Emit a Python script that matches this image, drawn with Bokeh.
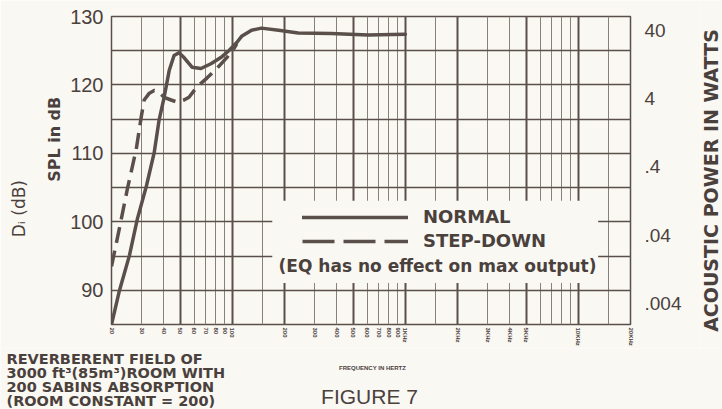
import math
from bokeh.plotting import figure
from bokeh.layouts import column, row
from bokeh.models import (FixedTicker, LogAxis, LinearAxis, Range1d, LogScale, Grid, Label,
                          Legend, LegendItem, BoxAnnotation)
from bokeh.embed import file_html
from bokeh.resources import INLINE

# ---------------- data ----------------
freq_normal = [20, 22.2, 25.4, 28.2, 31.8, 35.3, 37.7, 40.3, 43.1, 46.0, 49.1, 52.5,
               58.4, 65.8, 75.1, 85.7, 95.3, 106, 113, 129, 147, 185, 240, 372, 608, 1000]
spl_normal = [85.0, 89.9, 95.1, 100.4, 105.2, 110.1, 114.9, 118.2, 122.1, 124.3, 124.7, 124.0,
              122.6, 122.4, 123.1, 124.0, 125.0, 126.2, 127.1, 128.0, 128.3, 128.0, 127.6, 127.5, 127.3, 127.4]

freq_stepdown = [20, 22.2, 24.7, 27.8, 29.7, 30.9, 33.1, 35.3, 37.7, 40.3, 44.2, 47.9,
                 52.5, 56.1, 62.3, 71.2, 81.3, 92.8, 102, 106]
spl_stepdown = [93.5, 99.0, 104.8, 110.6, 115.3, 117.8, 118.8, 119.2, 118.9, 118.2, 117.8, 117.5,
                117.8, 118.2, 119.7, 121.0, 122.4, 124.0, 125.3, 126.0]

spl_ticks = [90, 100, 110, 120, 130]
spl_grid = [85, 90, 95, 100, 105, 110, 115, 120, 125, 130]
power_ticks = [0.004, 0.04, 0.4, 4, 40]
power_labels = [".004", ".04", ".4", "4", "40"]
POWER_REF_DB = 112.0  # SPL that corresponds to 1 W acoustic power on the right scale

freq_ticks = [20, 30, 40, 50, 60, 70, 80, 90, 100, 200, 300, 400, 500, 600, 700, 800, 900,
              1000, 2000, 3000, 4000, 5000, 10000, 20000]
freq_labels = ["20", "30", "40", "50", "60", "70", "80", "90", "100", "200", "300", "400", "500",
               "600", "700", "800", "900", "1KHz", "2KHz", "3KHz", "4KHz", "5KHz", "10KHz", "20KHz"]
grid_freqs = [20, 30, 40, 50, 60, 70, 80, 90, 100, 150, 200, 300, 400, 500, 600, 700, 800, 900,
              1000, 1500, 2000, 3000, 4000, 5000, 6000, 7000, 8000, 9000, 10000, 15000, 20000]
bold_grid_freqs = [50, 100, 200, 500, 1000, 2000, 5000, 10000]

note_lines = ["REVERBERENT FIELD OF", "3000 ft³(85m³)ROOM WITH",
              "200 SABINS ABSORPTION", "(ROOM CONSTANT = 200)"]

# ---------------- style ----------------
BG = "#faf8f3"
INK = "#5a4f4a"
GRID = "#8a807a"
TEXT = "#4a413d"
FONT = "Liberation Sans"
BOLDFONT = "DejaVu Sans"

W = 722
W_SIDE = 22                    # strip on the right carrying the power-axis title
W_MAIN = W - W_SIDE
H_TOP, H_BOT = 348, 61
FL, FR, FT, FB = 111, 630, 16, 327      # frame edges in page pixels
Y0, Y1 = 85, 130

p = figure(width=W_MAIN, height=H_TOP, x_axis_type="log", x_range=(20, 20000), y_range=(Y0, Y1),
           output_backend="svg", toolbar_location=None,
           min_border_left=FL, min_border_right=W_MAIN - FR, min_border_top=FT,
           min_border_bottom=H_TOP - FB,
           background_fill_color=BG, border_fill_color=BG,
           outline_line_color=INK, outline_line_width=1.5)
p.frame_align = False


def db_at(py):
    """SPL value at a page pixel row (for placing text ticks)."""
    return Y1 - (py - FT) * (Y1 - Y0) / (FB - FT)


# grids
p.xgrid.ticker = FixedTicker(ticks=grid_freqs)
p.xgrid.grid_line_color = GRID
p.xgrid.grid_line_width = 1
p.ygrid.ticker = FixedTicker(ticks=spl_grid)
p.ygrid.grid_line_color = INK
p.ygrid.grid_line_width = 1.3
p.add_layout(Grid(dimension=0, ticker=FixedTicker(ticks=bold_grid_freqs),
                  grid_line_color=INK, grid_line_width=2), "center")


def bare(ax):
    ax.major_tick_out = 0
    ax.major_tick_in = 0
    ax.minor_tick_out = 0
    ax.minor_tick_in = 0
    ax.axis_line_color = None
    ax.major_label_text_color = TEXT


# bottom axis
xa = p.xaxis[0]
bare(xa)
xa.ticker = FixedTicker(ticks=freq_ticks)
xa.major_label_overrides = dict(zip(freq_ticks, freq_labels))
xa.major_label_orientation = "vertical"
xa.major_label_text_font_size = "6px"
xa.major_label_text_font_style = "bold"
xa.major_label_text_font = FONT
xa.major_label_standoff = 3

# left axis
ya = p.yaxis[0]
bare(ya)
ya.ticker = FixedTicker(ticks=spl_ticks)
ya.major_label_text_font_size = "20px"
ya.major_label_text_font = FONT
ya.major_label_standoff = 8

# left titles carried as single-tick axes
spl_y = db_at(140)
spl_ax = LinearAxis(ticker=FixedTicker(ticks=[spl_y]), major_label_overrides={spl_y: "SPL in dB"},
                    major_label_orientation="vertical", major_label_standoff=3,
                    major_label_text_font=BOLDFONT, major_label_text_font_style="bold",
                    major_label_text_font_size="16px")
bare(spl_ax)
p.add_layout(spl_ax, "left")
di_y = db_at(210)
di_ax = LinearAxis(ticker=FixedTicker(ticks=[di_y]), major_label_overrides={di_y: "Dᵢ (dB)"},
                   major_label_orientation="vertical", major_label_standoff=13,
                   major_label_text_font=BOLDFONT, major_label_text_font_size="17px")
bare(di_ax)
p.add_layout(di_ax, "left")

# right axis (acoustic power, log)
p.extra_y_ranges = {"watts": Range1d(10 ** ((Y0 - POWER_REF_DB) / 10), 10 ** ((Y1 - POWER_REF_DB) / 10))}
p.extra_y_scales = {"watts": LogScale()}
ra = LogAxis(y_range_name="watts", ticker=FixedTicker(ticks=power_ticks),
             major_label_overrides=dict(zip(power_ticks, power_labels)))
bare(ra)
ra.major_label_text_font_size = "19px"
ra.major_label_text_font = FONT
ra.major_label_standoff = 14
p.add_layout(ra, "right")

# curves
r_norm = p.line(freq_normal, spl_normal, line_width=3.5, line_color=INK,
                line_join="round", line_cap="round")
r_step = p.line(freq_stepdown, spl_stepdown, line_width=3.5, line_color=INK,
                line_dash="16 8", line_join="round")
# legend key for the dashed curve: the printed key uses longer dashes
key_step = p.line(freq_stepdown, spl_stepdown, line_width=3.5, line_color=INK,
                  line_dash="32 9", visible=False)

# blank area behind the legend (covers grid)
p.add_layout(BoxAnnotation(left=170, right=13000, bottom=db_at(285), top=db_at(202),
                           fill_color=BG, fill_alpha=1.0, line_alpha=0))

legend = Legend(items=[LegendItem(label="NORMAL", renderers=[r_norm]),
                       LegendItem(label="STEP-DOWN", renderers=[key_step])],
                location=(302 - FL, FB - 254), glyph_width=106, glyph_height=20,
                label_height=20, label_standoff=15, spacing=3, padding=0, margin=0,
                background_fill_alpha=0, border_line_alpha=0,
                inactive_fill_alpha=0, click_policy="none",
                label_text_font_size="18px", label_text_font_style="bold",
                label_text_color=TEXT, label_text_font=BOLDFONT)
p.add_layout(legend, "center")

p.add_layout(Label(x=437 - FL, y=FB - 268, x_units="screen", y_units="screen",
                   text="(EQ has no effect on max output)", text_align="center",
                   text_baseline="middle", text_font=BOLDFONT, text_font_style="bold",
                   text_font_size="17px", text_color=TEXT))


def strip(width, height):
    f = figure(width=width, height=height, x_range=(0, 1), y_range=(0, 1),
               output_backend="svg", toolbar_location=None,
               x_axis_location=None, y_axis_location=None, min_border=0,
               background_fill_color=BG, border_fill_color=BG, outline_line_color=None)
    f.grid.visible = False
    f.frame_align = False
    return f


def note(fig, text, x, y, size, font=BOLDFONT, bold=True, align="center", angle=0.0):
    fig.add_layout(Label(x=x, y=y, x_units="screen", y_units="screen", angle=angle,
                         text=text, text_align=align, text_baseline="middle",
                         text_font=font, text_font_style="bold" if bold else "normal",
                         text_font_size=size, text_color=TEXT))


# ---------------- right strip: power-axis title (reads bottom to top) ----------------
r = strip(W_SIDE, H_TOP)
note(r, "ACOUSTIC POWER IN WATTS", 710 - W_MAIN, H_TOP - 180, "19px", angle=math.pi / 2)

# ---------------- lower strip: notes under the chart ----------------
q = strip(W, H_BOT)
PAGE_H = H_TOP + H_BOT
note(q, "FREQUENCY IN HERTZ", 372, PAGE_H - 367, "6px", font=FONT)
note(q, "FIGURE 7", 369, PAGE_H - 396, "21px", font=FONT, bold=False)
for i, line in enumerate(note_lines):
    note(q, line, 6, PAGE_H - (358 + 14 * i), "14.5px", align="left")

layout = column(row(p, r, spacing=0), q, spacing=0)
open("out.html", "w").write(file_html(layout, INLINE))
